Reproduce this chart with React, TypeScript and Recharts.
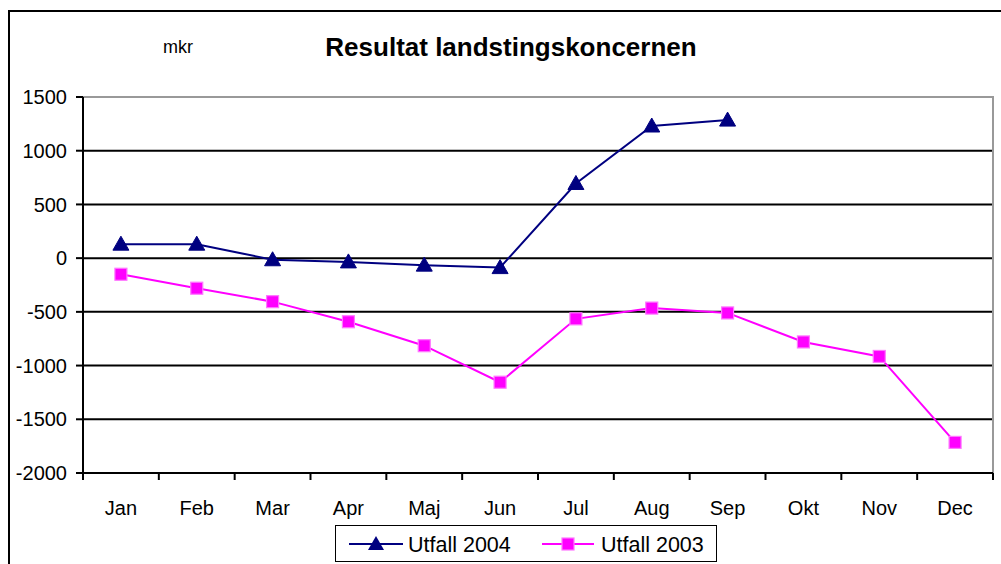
import React from 'react';
import { LineChart, Line, XAxis, YAxis, CartesianGrid, ReferenceArea } from 'recharts';

const months = ['Jan', 'Feb', 'Mar', 'Apr', 'Maj', 'Jun', 'Jul', 'Aug', 'Sep', 'Okt', 'Nov', 'Dec'];
const utfall2004: (number | null)[] = [130, 130, -15, -35, -65, -88, 695, 1230, 1285, null, null, null];
const utfall2003: number[] = [-150, -280, -405, -592, -815, -1155, -565, -465, -510, -780, -915, -1715];
const yTicks = [-2000, -1500, -1000, -500, 0, 500, 1000, 1500];
const gridValues = [-1500, -1000, -500, 0, 500, 1000];

const data = months.map((m, i) => ({
  x: i + 0.5,
  month: m,
  u2004: utfall2004[i],
  u2003: utfall2003[i],
}));

const xTicks: number[] = [];
for (let i = 0; i <= 24; i++) xTicks.push(i / 2);

const FONT = '"Liberation Sans", Arial, sans-serif';

const XTick = (props: any) => {
  const { x, y, payload } = props;
  const v = payload.value as number;
  if (Number.isInteger(v)) {
    return <line x1={x} x2={x} y1={y} y2={y + 7} stroke="#000" strokeWidth={2} />;
  }
  const label = months[Math.floor(v)];
  return (
    <text x={x} y={y + 42} textAnchor="middle" fontFamily={FONT} fontSize={20} fill="#000">
      {label}
    </text>
  );
};

const Triangle = (props: any) => {
  const { cx, cy, value } = props;
  if (value === null || value === undefined || cx == null || cy == null) return null;
  return (
    <polygon
      points={`${cx},${cy - 8} ${cx - 8},${cy + 6} ${cx + 8},${cy + 6}`}
      fill="#000080"
      stroke="#000080"
      strokeWidth={1}
    />
  );
};

const Square = (props: any) => {
  const { cx, cy, value } = props;
  if (value === null || value === undefined || cx == null || cy == null) return null;
  return (
    <rect x={cx - 6} y={cy - 6} width={12} height={12} fill="#ff00ff" stroke="#ff77ff" strokeWidth={1.2} />
  );
};

export default function App() {
  return (
    <div
      style={{
        position: 'absolute',
        left: 0,
        top: 0,
        width: 1001,
        height: 564,
        overflow: 'hidden',
        background: '#fff',
        fontFamily: FONT,
      }}
    >
      <div
        style={{
          position: 'absolute',
          left: 8,
          top: 10,
          width: 1100,
          height: 700,
          borderLeft: '2.5px solid #000',
          borderTop: '2.5px solid #000',
        }}
      />
      <div
        style={{
          position: 'absolute',
          left: 138,
          width: 80,
          top: 37,
          textAlign: 'center',
          fontSize: 18,
          color: '#000',
        }}
      >
        mkr
      </div>
      <div
        style={{
          position: 'absolute',
          left: 211,
          width: 600,
          top: 32,
          textAlign: 'center',
          fontSize: 26,
          fontWeight: 'bold',
          color: '#000',
        }}
      >
        Resultat landstingskoncernen
      </div>
      <div style={{ position: 'absolute', left: 0, top: 0 }}>
        <LineChart width={1001} height={564} data={data} margin={{ top: 97, right: 8, left: 0, bottom: 31 }}>
          <ReferenceArea x1={0} x2={12} y1={-2000} y2={1500} fill="none" stroke="#999" strokeWidth={2} ifOverflow="visible" />
          <CartesianGrid horizontal vertical={false} stroke="#000" strokeWidth={2} horizontalValues={gridValues} />
          <XAxis
            type="number"
            dataKey="x"
            domain={[0, 12]}
            ticks={xTicks}
            interval={0}
            tickLine={false}
            tickSize={0}
            tickMargin={0}
            height={60}
            axisLine={{ stroke: '#000', strokeWidth: 2 }}
            tick={<XTick />}
            allowDataOverflow
          />
          <YAxis
            type="number"
            domain={[-2000, 1500]}
            ticks={yTicks}
            interval={0}
            width={83}
            tickSize={7}
            tickMargin={9}
            axisLine={{ stroke: '#000', strokeWidth: 2 }}
            tickLine={{ stroke: '#000', strokeWidth: 2 }}
            tick={{ fontFamily: FONT, fontSize: 20, fill: '#000' }}
            allowDataOverflow
          />
          <Line
            type="linear"
            dataKey="u2004"
            stroke="#000080"
            strokeWidth={2}
            dot={<Triangle />}
            activeDot={false}
            connectNulls={false}
            isAnimationActive={false}
          />
          <Line
            type="linear"
            dataKey="u2003"
            stroke="#ff00ff"
            strokeWidth={2}
            dot={<Square />}
            activeDot={false}
            isAnimationActive={false}
          />
        </LineChart>
      </div>
      <div
        style={{
          position: 'absolute',
          left: 335,
          top: 525,
          width: 382,
          height: 37,
          border: '1.5px solid #000',
          boxSizing: 'border-box',
        }}
      >
        <svg width={382} height={37} style={{ position: 'absolute', left: 0, top: 0 }}>
          <line x1={13} x2={67} y1={18} y2={18} stroke="#000080" strokeWidth={2} />
          <polygon points="40,10 32,24 48,24" fill="#000080" />
          <text x={72} y={26} fontFamily={FONT} fontSize={21.5} fill="#000">Utfall 2004</text>
          <line x1={206} x2={258} y1={18} y2={18} stroke="#ff00ff" strokeWidth={2} />
          <rect x={226} y={12} width={12} height={12} fill="#ff00ff" stroke="#ff77ff" strokeWidth={1.2} />
          <text x={265} y={26} fontFamily={FONT} fontSize={21.5} fill="#000">Utfall 2003</text>
        </svg>
      </div>
    </div>
  );
}
